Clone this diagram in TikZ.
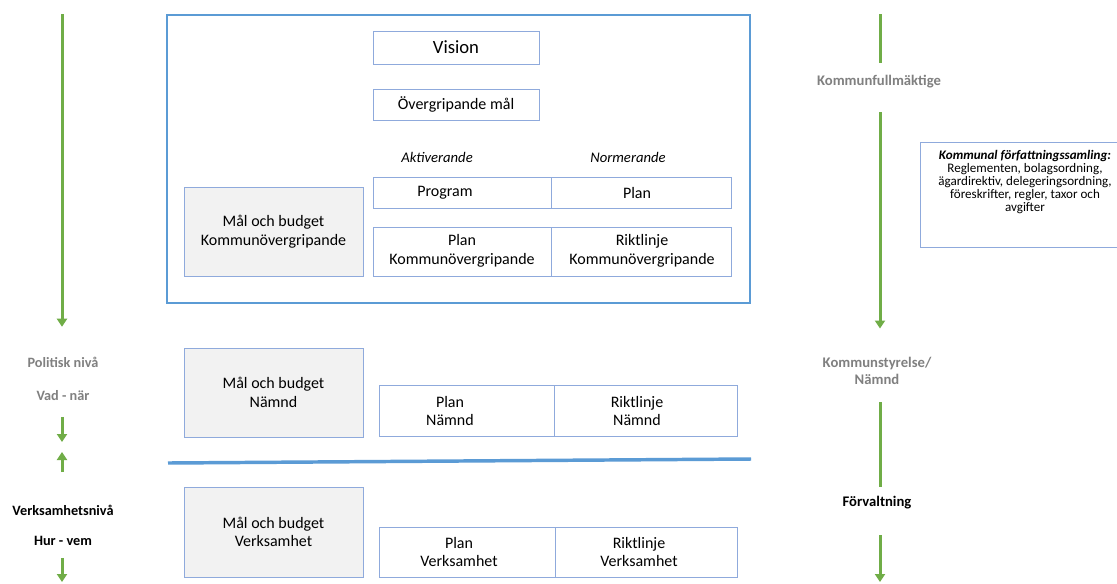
\documentclass[tikz,border=0pt]{standalone}
\usepackage{fontspec}
\setmainfont{Carlito}
\usetikzlibrary{arrows.meta}
\definecolor{boxblue}{RGB}{143,170,220}
\definecolor{mainblue}{RGB}{91,155,213}
\definecolor{grayfill}{RGB}{242,242,242}
\definecolor{agreen}{RGB}{112,173,71}
\definecolor{labelgray}{RGB}{128,128,128}
\begin{document}
\begin{tikzpicture}[x=0.75pt,y=-0.75pt,
  wh/.style 2 args={minimum width={#1*0.75pt},minimum height={#2*0.75pt}},
  cell/.style={draw=boxblue,line width=0.75pt,inner sep=0pt,fill=white},
  graybox/.style={cell,fill=grayfill,align=center,font=\fontsize{12}{14}\selectfont},
  txt/.style={inner sep=0pt,align=center,font=\fontsize{12}{14.2}\selectfont},
  ital/.style={inner sep=0pt,font=\fontsize{11}{13}\selectfont\itshape},
  leftlbl/.style={inner sep=0pt,text height=7.5pt,text depth=2pt,font=\fontsize{10.7}{12.5}\selectfont\bfseries},
  rightlbl/.style={inner sep=0pt,align=center,font=\fontsize{11}{12.75}\selectfont\bfseries},
  ga/.style={draw=agreen,line width=2.25pt,-{Triangle[width=7.5pt,length=6pt]}},
  gl/.style={draw=agreen,line width=2.25pt}]
\useasboundingbox (0,0) rectangle (1117,583);
\clip (0,0) rectangle (1117,583);
\fill[white] (0,0) rectangle (1117,583);

% main framed area
\node[draw=mainblue,line width=1.5pt,wh={583}{288},inner sep=0pt] (main) at (458.5,159) {};
\node[cell,wh={166}{33},font=\fontsize{14}{17}\selectfont] (vision) at (456,47.5) {Vision};
\node[cell,wh={166}{31},font=\fontsize{12}{14}\selectfont] (ovm) at (456,104.5) {Övergripande mål};
\node[ital] (akt) at (437,157) {Aktiverande};
\node[ital] (norm) at (628,157) {Normerande};

\node[cell,wh={178}{31}] (prog) at (462,192.5) {};
\node[cell,wh={180}{31}] (planc) at (641,192.5) {};
\node[txt] (prog-t) at (445,192.5) {Program};
\node[txt] (planc-t) at (637,192.5) {Plan};

\node[cell,wh={178}{49}] (pk) at (462,251.5) {};
\node[cell,wh={180}{49}] (rk) at (641,251.5) {};
\node[txt] (pk-t) at (462,251) {Plan\\Kommunövergripande};
\node[txt] (rk-t) at (642,251) {Riktlinje\\Kommunövergripande};

\node[graybox,wh={179}{89}] (mbk) at (273.5,231.5) {Mål och budget\\Kommunövergripande};

% Nämnd level
\node[graybox,wh={179}{89}] (mbn) at (273.5,392.5) {Mål och budget\\Nämnd};
\node[cell,wh={175}{51}] (pn) at (466.5,410.5) {};
\node[cell,wh={183}{51}] (rn) at (645.5,410.5) {};
\node[txt] (pn-t) at (450,411) {Plan\\Nämnd};
\node[txt] (rn-t) at (637,411) {Riktlinje\\Nämnd};

% divider
\coordinate (divL) at (168,463);
\coordinate (divR) at (751,459);
\draw[mainblue,line width=2.6pt] (divL) -- (divR);

% Verksamhet level
\node[graybox,wh={179}{90}] (mbv) at (273.5,532) {Mål och budget\\Verksamhet};
\node[cell,wh={176}{50}] (pv) at (467,552) {};
\node[cell,wh={182}{50}] (rv) at (646,552) {};
\node[txt] (pv-t) at (459,552) {Plan\\Verksamhet};
\node[txt] (rv-t) at (639,552) {Riktlinje\\Verksamhet};

% Kommunal författningssamling
\node[cell,wh={214}{105}] (kfsbox) at (1027,194.5) {};
\node[inner sep=0pt,align=center,font=\fontsize{9.8}{9.9}\selectfont] (kfs) at (1025,182)
  {\textbf{\textit{Kommunal författningssamling:}}\\Reglementen, bolagsordning,\\ägardirektiv, delegeringsordning,\\föreskrifter, regler, taxor och\\avgifter};

% left column
\coordinate (l0) at (62,14);
\node[leftlbl,text=labelgray] (pol) at (63,364) {Politisk nivå};
\node[leftlbl,text=labelgray] (vad) at (63,397) {Vad - när};
\node[leftlbl] (verks) at (63,512) {Verksamhetsnivå};
\node[leftlbl] (hur) at (63,542) {Hur - vem};
\coordinate (lm1) at (62,442);
\coordinate (lm2) at (62,452);
\coordinate (lend) at (62,582);
\draw[ga,shorten >=23pt] (l0) -- (pol.north -| l0);
\draw[ga,shorten <=10pt] (vad.south -| l0) -- (lm1);
\draw[ga,shorten <=25pt] (verks.north -| l0) -- (lm2);
\draw[ga,shorten <=7pt] (hur.south -| l0) -- (lend);

% right column
\coordinate (r0) at (880,14);
\node[rightlbl,text=labelgray] (kf) at (879,82) {Kommunfullmäktige};
\node[rightlbl,text=labelgray] (ks) at (877,370.5) {Kommunstyrelse/\\Nämnd};
\node[rightlbl] (forv) at (877,503) {Förvaltning};
\coordinate (rend) at (880,582);
\draw[gl,shorten >=9pt] (r0) -- (kf.north -| r0);
\draw[ga,shorten <=17.5pt,shorten >=21pt] (kf.south -| r0) -- (ks.north -| r0);
\draw[gl,shorten <=13.5pt,shorten >=7pt] (ks.south -| r0) -- (forv.north -| r0);
\draw[ga,shorten <=19pt] (forv.south -| r0) -- (rend);
\end{tikzpicture}
\end{document}
